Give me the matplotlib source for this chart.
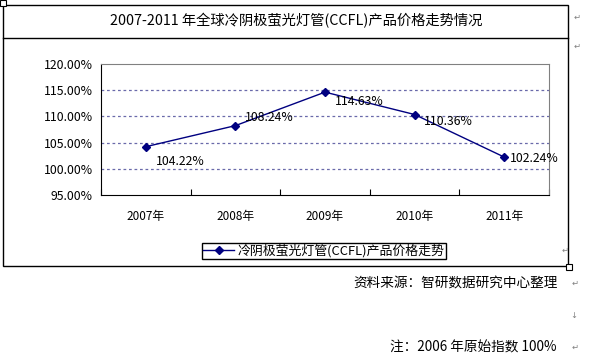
import matplotlib
matplotlib.use("Agg")
import matplotlib.pyplot as plt
from matplotlib.lines import Line2D
from matplotlib.patches import Rectangle
from matplotlib.ticker import FixedLocator, FuncFormatter

plt.rcParams['font.family'] = ['Noto Sans CJK SC', 'DejaVu Sans']

# data
years = ['2007年', '2008年', '2009年', '2010年', '2011年']
prices = [104.22, 108.24, 114.63, 110.36, 102.24]
series_name = '冷阴极萤光灯管(CCFL)产品价格走势'
title = '2007-2011 年全球冷阴极萤光灯管(CCFL)产品价格走势情况'
source_note = '资料来源：智研数据研究中心整理'
index_note = '注：2006 年原始指数 100%'

W, H = 597, 354
fig = plt.figure(figsize=(W / 100, H / 100), dpi=100)

def fx(px):
    return px / W

def fy(py):
    return 1 - py / H

# table frame round the chart
box_col = 'black'
fig.add_artist(Rectangle((fx(3), fy(266)), fx(568) - fx(3), fy(5) - fy(266),
                         transform=fig.transFigure, fill=False, lw=1, ec=box_col))
fig.add_artist(Line2D([fx(3), fx(568)], [fy(38), fy(38)], transform=fig.transFigure,
                      color=box_col, lw=1))
fig.add_artist(Rectangle((fx(0), fy(6)), fx(6), fy(0) - fy(6), transform=fig.transFigure,
                         fill=True, fc='white', ec='black', lw=0.8))
fig.add_artist(Rectangle((fx(566), fy(270)), fx(6), fy(264) - fy(270), transform=fig.transFigure,
                         fill=True, fc='white', ec='black', lw=0.8))

fig.text(fx(296), fy(21), title, ha='center', va='center', fontsize=10.3)

# plot area
ax = fig.add_axes([fx(101), fy(195), fx(549) - fx(101), fy(64) - fy(195)])
x = list(range(len(years)))
ax.plot(x, prices, color='#000080', lw=1, marker='D', ms=4, label=series_name, zorder=3)

ax.set_xlim(-0.5, len(years) - 0.5)
ax.set_ylim(95, 120)
ax.yaxis.set_major_locator(FixedLocator([95, 100, 105, 110, 115, 120]))
ax.yaxis.set_major_formatter(FuncFormatter(lambda v, p: '%.2f%%' % v))
ax.set_xticks(x)
ax.set_xticklabels(years)
ax.xaxis.set_minor_locator(FixedLocator([i - 0.5 for i in range(len(years) + 1)]))
ax.tick_params(axis='x', which='major', length=0, pad=11, labelsize=8.5)
ax.tick_params(axis='x', which='minor', direction='in', length=4, width=0.8)
ax.tick_params(axis='y', length=0, pad=6, labelsize=8.8)

for v in [100, 105, 110, 115]:
    ax.axhline(v, color='#6a6aaa', lw=0.9, ls=(0, (2.2, 2.2)), zorder=1)

for s in ['top', 'right']:
    ax.spines[s].set_color('#808080')
for s in ['left', 'bottom']:
    ax.spines[s].set_color('black')

# data labels, offsets in points
offsets = [(7, -11), (7, 6), (7, -7), (7, -5), (4, -1)]
for xi, v, off in zip(x, prices, offsets):
    ax.annotate('%.2f%%' % v, (xi, v), xytext=off, textcoords='offset points',
                ha='left', va='center', fontsize=8.8)

fig.legend(loc='center', bbox_to_anchor=(fx(324), fy(251)), fontsize=9.3,
           frameon=True, fancybox=False, edgecolor='black', framealpha=1,
           borderpad=0.1, handlelength=2.4, handletextpad=0.3)

fig.text(fx(558), fy(283), source_note, ha='right', va='center', fontsize=9.8)
fig.text(fx(557), fy(347), index_note, ha='right', va='center', fontsize=9.8)

# word paragraph marks
for px, py in [(577, 17), (577, 46), (575, 283), (575, 347), (565, 250)]:
    fig.text(fx(px), fy(py), '↵', ha='center', va='center', fontsize=6, color='#808080',
             family='DejaVu Sans')
fig.text(fx(574), fy(315), '↓', ha='center', va='center', fontsize=6, color='#808080',
         family='DejaVu Sans')

fig.savefig('out.png', dpi=100)
